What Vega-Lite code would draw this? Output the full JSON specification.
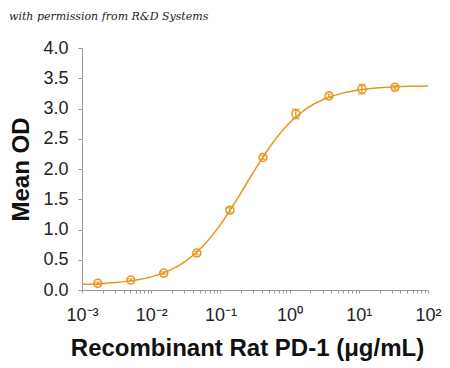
{
  "$schema": "https://vega.github.io/schema/vega-lite/v6.json",
  "width": 346,
  "height": 242,
  "autosize": {"type": "none"},
  "padding": {"left": 82, "top": 48, "right": 22, "bottom": 78},
  "background": "white",
  "title": {"text": "with permission from R&D Systems", "anchor": "start", "frame": "group", "dx": -73, "offset": 17, "font": "DejaVu Serif", "fontStyle": "italic", "fontWeight": "normal", "fontSize": 11, "color": "#222"},
  "config": {"view": {"stroke": null}, "font": "Liberation Sans"},
  "datasets": {
    "curve": [
      {"conc": 0.001, "od": 0.094},
      {"conc": 0.001778, "od": 0.105},
      {"conc": 0.003162, "od": 0.125},
      {"conc": 0.005623, "od": 0.159},
      {"conc": 0.01, "od": 0.217},
      {"conc": 0.01778, "od": 0.317},
      {"conc": 0.03162, "od": 0.479},
      {"conc": 0.05623, "od": 0.728},
      {"conc": 0.1, "od": 1.08},
      {"conc": 0.1778, "od": 1.518},
      {"conc": 0.3162, "od": 1.99},
      {"conc": 0.5623, "od": 2.422},
      {"conc": 1, "od": 2.763},
      {"conc": 1.778, "od": 3.002},
      {"conc": 3.162, "od": 3.156},
      {"conc": 5.623, "od": 3.25},
      {"conc": 10, "od": 3.306},
      {"conc": 17.78, "od": 3.338},
      {"conc": 31.62, "od": 3.356},
      {"conc": 56.23, "od": 3.367},
      {"conc": 100, "od": 3.372}
    ],
    "points": [
      {"conc": 0.00169, "od": 0.11, "lo": 0.09, "hi": 0.13},
      {"conc": 0.00508, "od": 0.165, "lo": 0.145, "hi": 0.185},
      {"conc": 0.0152, "od": 0.28, "lo": 0.26, "hi": 0.30},
      {"conc": 0.0457, "od": 0.61, "lo": 0.58, "hi": 0.64},
      {"conc": 0.137, "od": 1.32, "lo": 1.28, "hi": 1.36},
      {"conc": 0.412, "od": 2.19, "lo": 2.16, "hi": 2.22},
      {"conc": 1.23, "od": 2.91, "lo": 2.83, "hi": 2.99},
      {"conc": 3.7, "od": 3.21, "lo": 3.18, "hi": 3.24},
      {"conc": 11.1, "od": 3.32, "lo": 3.24, "hi": 3.40},
      {"conc": 33.3, "od": 3.35, "lo": 3.32, "hi": 3.38}
    ]
  },
  "encoding": {
    "x": {
      "field": "conc", "type": "quantitative",
      "scale": {"type": "log", "domain": [0.001, 100], "nice": false},
      "axis": {
        "title": "Recombinant Rat PD-1 (μg/mL)",
        "titleFont": "Liberation Sans", "titleFontSize": 24, "titleFontWeight": "bold", "titleColor": "#111", "titlePadding": 12, "titleX": 165,
        "values": [0.001,0.002,0.003,0.004,0.005,0.006,0.007,0.008,0.009,0.01,0.02,0.03,0.04,0.05,0.06,0.07,0.08,0.09,0.1,0.2,0.3,0.4,0.5,0.6,0.7,0.8,0.9,1,2,3,4,5,6,7,8,9,10,20,30,40,50,60,70,80,90,100],
        "labelExpr": "datum.value == 0.001 ? '10⁻³' : datum.value == 0.01 ? '10⁻²' : datum.value == 0.1 ? '10⁻¹' : datum.value == 1 ? '10⁰' : datum.value == 10 ? '10¹' : datum.value == 100 ? '10²' : ''",
        "labelFont": "Liberation Sans", "labelFontSize": 18, "labelColor": "#222", "labelPadding": 13, "labelOverlap": false, "labelFlush": false,
        "domainColor": "#999", "tickColor": "#999", "tickSize": 3, "grid": false
      }
    },
    "y": {
      "field": "od", "type": "quantitative",
      "scale": {"domain": [0, 4], "nice": false},
      "axis": {
        "title": "Mean OD",
        "titleFont": "Liberation Sans", "titleFontSize": 24, "titleFontWeight": "bold", "titleColor": "#111", "titlePadding": 9,
        "values": [0, 0.5, 1, 1.5, 2, 2.5, 3, 3.5, 4], "format": ".1f",
        "labelFont": "Liberation Sans", "labelFontSize": 18, "labelColor": "#222", "labelPadding": 10,
        "domainColor": "#999", "tickColor": "#999", "tickSize": 4, "grid": false
      }
    }
  },
  "layer": [
    {
      "data": {"name": "curve"},
      "mark": {"type": "line", "color": "#E8951E", "strokeWidth": 1.5, "interpolate": "monotone"}
    },
    {
      "data": {"name": "points"},
      "mark": {"type": "rule", "color": "#E8951E", "strokeWidth": 1.3},
      "encoding": {"y": {"field": "lo", "type": "quantitative"}, "y2": {"field": "hi"}}
    },
    {
      "data": {"name": "points"},
      "mark": {"type": "tick", "color": "#E8951E", "orient": "horizontal", "size": 8, "thickness": 1.3},
      "encoding": {"y": {"field": "lo", "type": "quantitative"}}
    },
    {
      "data": {"name": "points"},
      "mark": {"type": "tick", "color": "#E8951E", "orient": "horizontal", "size": 8, "thickness": 1.3},
      "encoding": {"y": {"field": "hi", "type": "quantitative"}}
    },
    {
      "data": {"name": "points"},
      "mark": {"type": "point", "color": "#E8951E", "filled": false, "size": 64, "strokeWidth": 1.5, "opacity": 1}
    }
  ]
}
